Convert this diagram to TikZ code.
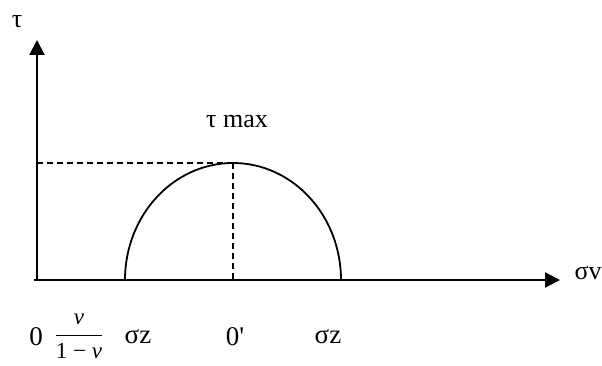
\documentclass[tikz,border=0pt]{standalone}
\usepackage{fontspec}
\setmainfont{Liberation Serif}
\usetikzlibrary{arrows.meta,positioning,calc}

\begin{document}
\begin{tikzpicture}[
  x=1pt, y=1pt,
  axis/.style={-{Triangle[length=15pt, width=15pt]}, black, line width=2pt},
  guide/.style={black, line width=1.3pt, dash pattern=on 6pt off 4pt},
  circ/.style={black, line width=1.8pt},
  lbl/.style={font=\fontsize{26}{28}\selectfont, inner sep=0pt},
  tick/.style={font=\fontsize{27}{29}\selectfont, inner sep=0pt},
]
  \useasboundingbox (0,0) rectangle (602,365);

  %% Axes
  \coordinate (orig) at (37,85);
  \coordinate (xstart) at (34,85);
  \coordinate (xend) at (560,85);
  \coordinate (yend) at (37,325);
  \draw[axis] (orig) -- (yend);
  \draw[axis] (xstart) -- (xend);

  %% Mohr half circle
  \coordinate (cleft) at (125,85);
  \coordinate (ctr) at (233,85);
  \coordinate (ctop) at (233,202);
  \draw[circ] (cleft) arc[start angle=180, end angle=0, x radius=108, y radius=117];

  %% Maximum shear guides
  \coordinate (ylevel) at (37,202);
  \draw[guide] (ylevel) -- (ctop);
  \draw[guide] (ctop) -- (ctr);

  %% Axis names
  \node[lbl] (tau) at (17,343) {τ};
  \node[lbl] (sigv) at (588,92) {σv};
  \node[lbl] (taumax) at (237,243) {τ max};

  %% Labels under the axis
  \node[tick] (zero) at (36,28) {0};
  \node[inner sep=0pt] (frac) at (79,29)
    {\fontsize{23}{26}\selectfont$\displaystyle\frac{\mbox{\itshape ν}}{\mbox{1 − \itshape ν}}$};
  \node[tick] (sz1) at (138,28) {σz};
  \node[tick] (zerop) at (235,28) {0\textquotesingle};
  \node[tick] (sz2) at (328,28) {σz};
\end{tikzpicture}
\end{document}
